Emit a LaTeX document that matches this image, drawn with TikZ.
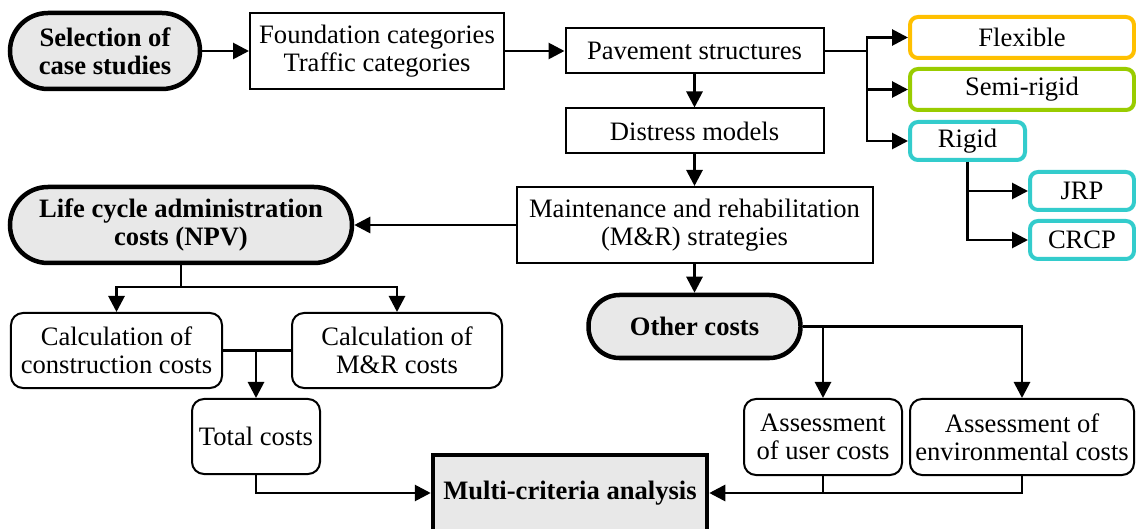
\documentclass[tikz,border=0pt]{standalone}
\usepackage{fontspec}
\setmainfont{Liberation Serif}
\usetikzlibrary{arrows.meta}
\newcommand\myfs{\fontsize{26.7}{28.1}\selectfont}
\definecolor{gfill}{HTML}{E8E8E8}
\definecolor{corange}{HTML}{FFC000}
\definecolor{cgreen}{HTML}{99CC00}
\definecolor{ccyan}{HTML}{33CCCC}
\begin{document}
\begin{tikzpicture}[x=1bp,y=-1bp,
  base/.style={draw, line width=2bp, inner sep=0pt, align=center, font=\myfs},
  sbox/.style={base},
  rbox/.style={base, rounded corners=12bp},
  term/.style={base, line width=4.5bp, fill=gfill, font=\myfs\bfseries},
  cbox/.style={base, line width=4bp, rounded corners=8bp},
  conn/.style={line width=2.8bp},
  arr/.style={conn, -{Triangle[length=16bp,width=16bp]}}]
\useasboundingbox[fill=white] (0,0) rectangle (1136,529);
% top row
\node[term, rounded corners=38bp, minimum width=190bp, minimum height=76bp] (sel) at (105,51) {Selection of\\case studies};
\node[sbox, minimum width=254bp, minimum height=76bp] (found) at (377,51) {Foundation categories\\Traffic categories};
\node[sbox, minimum width=258bp, minimum height=45bp] (pave) at (694.5,51) {Pavement structures};
\node[sbox, minimum width=258bp, minimum height=45bp] (dist) at (694.5,131) {Distress models};
\node[sbox, minimum width=356bp, minimum height=76bp] (maint) at (694.5,225) {Maintenance and rehabilitation\\(M\&R) strategies};
% pavement types
\node[cbox, draw=corange, minimum width=224bp, minimum height=41bp] (flex) at (1022,37.5) {Flexible};
\node[cbox, draw=cgreen, minimum width=224bp, minimum height=41bp] (semi) at (1022,89.5) {Semi-rigid};
\node[cbox, draw=ccyan, minimum width=115bp, minimum height=38bp] (rigid) at (967.5,141) {Rigid};
\node[cbox, draw=ccyan, minimum width=104bp, minimum height=38bp] (jrp) at (1082,191) {JRP};
\node[cbox, draw=ccyan, minimum width=104bp, minimum height=38bp] (crcp) at (1082,240) {CRCP};
% left branch
\node[term, rounded corners=38bp, minimum width=342bp, minimum height=76bp] (life) at (181,225) {Life cycle administration\\costs (NPV)};
\node[rbox, minimum width=211bp, minimum height=75bp] (cc) at (116.5,350.5) {Calculation of\\construction costs};
\node[rbox, minimum width=210bp, minimum height=75bp] (cmr) at (397,350.5) {Calculation of\\M\&R costs};
\node[rbox, minimum width=128bp, minimum height=75bp] (tot) at (256,436.5) {Total costs};
% right branch
\node[term, rounded corners=31bp, minimum width=212bp, minimum height=63bp] (other) at (694.5,326.5) {Other costs};
\node[rbox, minimum width=158bp, minimum height=76bp] (au) at (823,437) {Assessment\\of user costs};
\node[rbox, minimum width=224bp, minimum height=76bp] (ae) at (1022,437) {Assessment of\\environmental costs};
% final
\node[term, minimum width=274bp, minimum height=76bp] (multi) at (570,493) {Multi-criteria analysis};
% connectors
\draw[arr] (sel.east) -- (found.west);
\draw[arr] (found.east) -- (pave.west);
\coordinate (br) at (867,51);
\draw[conn] (pave.east) -- (br);
\draw[arr] (br) |- (flex.west);
\draw[arr] (br) |- (semi.west);
\draw[arr] (br) |- (rigid.west);
\draw[arr] (rigid.south) |- (jrp.west);
\draw[arr] (rigid.south) |- (crcp.west);
\draw[arr] (pave.south) -- (dist.north);
\draw[arr] (dist.south) -- (maint.north);
\draw[arr] (maint.west) -- (life.east);
\draw[arr] (maint.south) -- (other.north);
\coordinate (lj) at (181,287);
\draw[conn] (life.south) -- (lj);
\draw[arr] (lj) -| (cc.north);
\draw[arr] (lj) -| (cmr.north);
\draw[conn] (cc.east) -- (cmr.west);
\draw[arr] (tot.north |- cc.east) -- (tot.north);
\draw[arr] (tot.south) |- (multi.west);
\coordinate (oj) at (other.east -| au.north);
\draw[arr] (other.east) -| (ae.north);
\draw[arr] (oj) -- (au.north);
\draw[arr] (ae.south) |- (multi.east);
\draw[conn] (au.south) -- (au.south |- multi.east);
\end{tikzpicture}
\end{document}
